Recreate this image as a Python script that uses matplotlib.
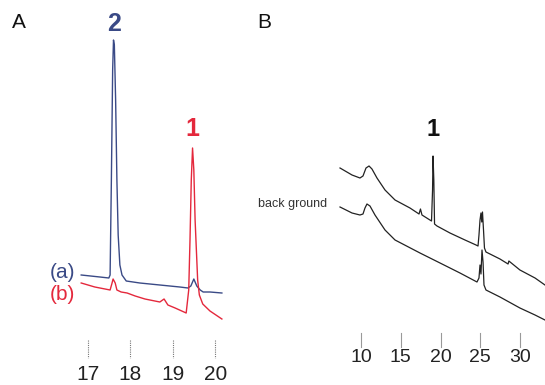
import matplotlib
matplotlib.use("Agg")
import matplotlib.pyplot as plt

plt.rcParams['font.family'] = ['Liberation Sans', 'DejaVu Sans']

# panel A: two chromatograms around 17-20 min (arbitrary response units)
a_time = [16.84, 17.28, 17.49, 17.52, 17.55, 17.58, 17.60, 17.62, 17.65, 17.68,
          17.71, 17.75, 17.80, 17.90, 18.22, 18.69, 19.16, 19.35, 19.42, 19.49,
          19.56, 19.64, 19.71, 19.87, 20.15]
a_signal = [55, 53, 52, 55, 150, 260, 290, 285, 230, 150,
            95, 65, 55, 49, 47, 45, 43, 42, 44, 51,
            44, 40, 38, 38, 37]

b_time = [16.84, 17.16, 17.52, 17.56, 17.59, 17.64, 17.68, 17.78, 17.92, 18.11,
          18.34, 18.69, 18.79, 18.88, 19.05, 19.31, 19.37, 19.40, 19.43, 19.46,
          19.49, 19.52, 19.55, 19.58, 19.62, 19.70, 19.87, 20.15]
b_signal = [47, 43, 40, 46, 51, 47, 40, 38, 37, 34,
            31, 28, 31, 25, 22, 17, 40, 90, 150, 182,
            160, 110, 80, 50, 35, 26, 19, 11]

a_ticks = [17, 18, 19, 20]

# panel B: sample vs background over the full run
s_time = [7.36, 8.87, 9.87, 10.25, 10.63, 11.01, 11.38, 12.01, 13.02, 14.28,
          16.16, 17.30, 17.48, 17.67, 18.87, 19.00, 19.06, 19.16, 19.25, 19.56,
          21.19, 23.08, 24.47, 24.72, 24.84, 24.97, 25.09, 25.19, 25.28, 25.41,
          25.53, 25.72, 27.48, 28.50, 28.60, 29.99, 31.89, 33.14]
s_signal = [162, 155, 152, 154, 162, 164, 161, 152, 140, 130,
            122, 116, 121, 115, 109, 140, 174, 150, 106, 104,
            97, 90, 85, 84, 95, 110, 117, 108, 118, 100,
            82, 78, 71, 66, 69, 60, 52, 45]

bg_time = [7.36, 8.87, 9.87, 10.25, 10.50, 10.75, 11.13, 11.76, 13.02, 14.28,
           17.42, 19.94, 22.45, 24.59, 24.84, 24.97, 25.09, 25.22, 25.35, 25.47,
           25.72, 27.48, 29.99, 31.89, 33.14]
bg_signal = [123, 117, 115, 116, 122, 126, 124, 115, 100, 90,
             77, 67, 57, 48, 52, 65, 56, 80, 68, 45,
             40, 33, 22, 15, 10]

b_ticks = [10, 15, 20, 25, 30]

navy = '#3a4a86'
red = '#e4283c'

fig = plt.figure(figsize=(5.45, 3.85), dpi=100)

# ---- panel A
axA = fig.add_axes([0, 0, 250 / 545, 1])
axA.plot(a_time, a_signal, color=navy, lw=1.0)
axA.plot(b_time, b_signal, color=red, lw=1.0)
for t in a_ticks:
    axA.plot([t, t], [-10, -28], color='#777777', lw=0.8, ls=(0, (1, 1)))
    axA.text(t, -45, str(t), ha='center', va='center', fontsize=15, color='#222222')
axA.text(17.61, 306, '2', ha='center', va='center', fontsize=18,
         fontweight='bold', color=navy)
axA.text(19.46, 201, '1', ha='center', va='center', fontsize=18,
         fontweight='bold', color=red)
axA.text(16.40, 58, '(a)', ha='center', va='center', fontsize=15, color=navy)
axA.text(16.40, 36, '(b)', ha='center', va='center', fontsize=15, color=red)
axA.set_xlim(17 - 88 / 42.5, 17 + 162 / 42.5)
axA.set_ylim(-55, 330)
axA.axis('off')

# ---- panel B
axB = fig.add_axes([250 / 545, 0, 295 / 545, 1])
axB.plot(s_time, s_signal, color='#222222', lw=0.9)
axB.plot(bg_time, bg_signal, color='#222222', lw=0.9)
for t in b_ticks:
    axB.plot([t, t], [-3, -17], color='#999999', lw=0.8)
    axB.text(t, -27, str(t), ha='center', va='center', fontsize=14, color='#222222')
axB.text(19.06, 200, '1', ha='center', va='center', fontsize=17,
         fontweight='bold', color='#111111')
axB.text(-3.0, 126, 'back ground', ha='left', va='center', fontsize=9,
         color='#333333')
axB.set_xlim(10 - 111 / 7.95, 10 + 184 / 7.95)
axB.set_ylim(-55, 330)
axB.axis('off')

fig.text(12 / 545, 1 - 22 / 385, 'A', ha='left', va='center', fontsize=15, color='#111111')
fig.text(257 / 545, 1 - 22 / 385, 'B', ha='left', va='center', fontsize=15, color='#111111')

fig.savefig('out.png', dpi=100)
